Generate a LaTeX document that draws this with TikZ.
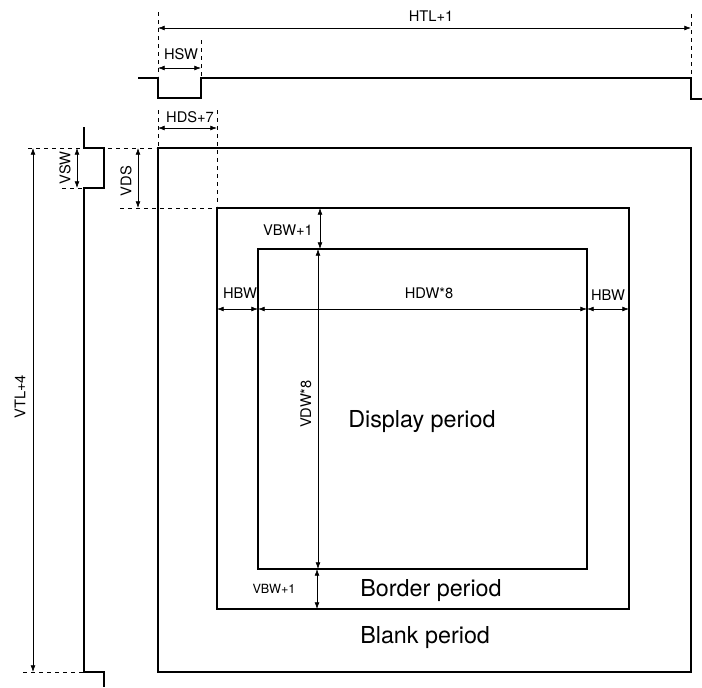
\documentclass[tikz,border=0pt]{standalone}
\usepackage{fontspec}
\setmainfont{TeX Gyre Heros}
\usetikzlibrary{arrows.meta}
\begin{document}
\begin{tikzpicture}[x=0.75pt,y=-0.75pt,
  wave/.style={line width=1.1pt, line join=miter},
  box/.style={line width=1.1pt},
  dim/.style={line width=0.5pt, {Latex[length=5pt,width=3.6pt]}-{Latex[length=5pt,width=3.6pt]}},
  guide/.style={line width=0.5pt, dash pattern=on 3pt off 3pt},
  lab/.style={font=\fontsize{11}{13}\selectfont, inner sep=0pt},
  slab/.style={font=\fontsize{9.5}{11}\selectfont, inner sep=0pt},
  big/.style={font=\fontsize{17.5}{20}\selectfont, inner sep=0pt}]
\useasboundingbox (0,0) rectangle (702,687);

% horizontal sync waveform
\coordinate (hs0) at (138,78);
\coordinate (hs1) at (158,78);
\coordinate (hs2) at (158,98);
\coordinate (hs3) at (201,98);
\coordinate (hs4) at (201,78);
\coordinate (hs5) at (691,78);
\coordinate (hs6) at (691,99);
\coordinate (hs7) at (702,99);
\draw[wave] (hs0) -- (hs1) -- (hs2) -- (hs3) -- (hs4) -- (hs5) -- (hs6) -- (hs7);

% vertical sync waveform
\coordinate (vs0) at (84,127);
\coordinate (vs1) at (84,148);
\coordinate (vs2) at (104,148);
\coordinate (vs3) at (104,188);
\coordinate (vs4) at (84,188);
\coordinate (vs5) at (84,672);
\coordinate (vs6) at (104,672);
\coordinate (vs7) at (104,687);
\draw[wave] (vs0) -- (vs1) -- (vs2) -- (vs3) -- (vs4) -- (vs5) -- (vs6) -- (vs7);

% periods
\coordinate (bl1) at (158,148); \coordinate (bl2) at (691,672);
\coordinate (bo1) at (217,208); \coordinate (bo2) at (629,609);
\coordinate (di1) at (258,249); \coordinate (di2) at (587,569);
\draw[box] (bl1) rectangle (bl2);
\draw[box] (bo1) rectangle (bo2);
\draw[box] (di1) rectangle (di2);

% guide lines
\coordinate (g1a) at (158,12);  \coordinate (g1b) at (158,76);
\coordinate (g2a) at (691,14);  \coordinate (g2b) at (691,76);
\coordinate (g3a) at (201,40);  \coordinate (g3b) at (201,76);
\coordinate (g4a) at (158,110); \coordinate (g4b) at (158,146);
\coordinate (g5a) at (217,110); \coordinate (g5b) at (217,206);
\coordinate (g6a) at (28,148);  \coordinate (g6b) at (156,148);
\coordinate (g7a) at (62,188);  \coordinate (g7b) at (84,188);
\coordinate (g8a) at (120,208); \coordinate (g8b) at (215,208);
\coordinate (g9a) at (23,672);  \coordinate (g9b) at (84,672);
\foreach \i in {1,...,9} \draw[guide] (g\i a) -- (g\i b);

% dimension arrows
\coordinate (htlA) at (158,28);  \coordinate (htlB) at (691,28);
\coordinate (hswA) at (158,68);  \coordinate (hswB) at (201,68);
\coordinate (hdsA) at (158,128); \coordinate (hdsB) at (217,128);
\coordinate (vtlA) at (33,148);  \coordinate (vtlB) at (33,672);
\coordinate (vswA) at (77,148);  \coordinate (vswB) at (77,188);
\coordinate (vdsA) at (138,148); \coordinate (vdsB) at (138,208);
\coordinate (vb1A) at (320,208); \coordinate (vb1B) at (320,249);
\coordinate (hb1A) at (217,309); \coordinate (hb1B) at (258,309);
\coordinate (hdwA) at (258,309); \coordinate (hdwB) at (587,309);
\coordinate (hb2A) at (587,309); \coordinate (hb2B) at (629,309);
\coordinate (vdwA) at (318,249); \coordinate (vdwB) at (318,569);
\coordinate (vb2A) at (317,569); \coordinate (vb2B) at (317,609);
\foreach \n in {htl,hsw,hds,vtl,vsw,vds,vb1,hb1,hdw,hb2,vdw,vb2}
  \draw[dim] (\n A) -- (\n B);

% labels
\node[lab] (tHTL) at (431,16) {HTL+1};
\node[lab] (tHSW) at (181,54) {HSW};
\node[lab] (tHDS) at (190,117) {HDS+7};
\node[lab, rotate=90] (tVTL) at (20,397) {VTL+4};
\node[lab, rotate=90] (tVSW) at (65,168) {VSW};
\node[lab, rotate=90] (tVDS) at (126,181) {VDS};
\node[lab] (tVB1) at (288,230) {VBW+1};
\node[lab] (tHB1) at (240,293) {HBW};
\node[lab] (tHDW) at (429,293) {HDW*8};
\node[lab] (tHB2) at (608,295) {HBW};
\node[lab, rotate=90] (tVDW) at (306,404) {VDW*8};
\node[slab] (tVB2) at (274,589) {VBW+1};
\node[big, anchor=base west] (tDisp) at (348,427) {Display period};
\node[big, anchor=base west] (tBord) at (360,596) {Border period};
\node[big, anchor=base west] (tBlank) at (360,643) {Blank period};
\end{tikzpicture}
\end{document}
